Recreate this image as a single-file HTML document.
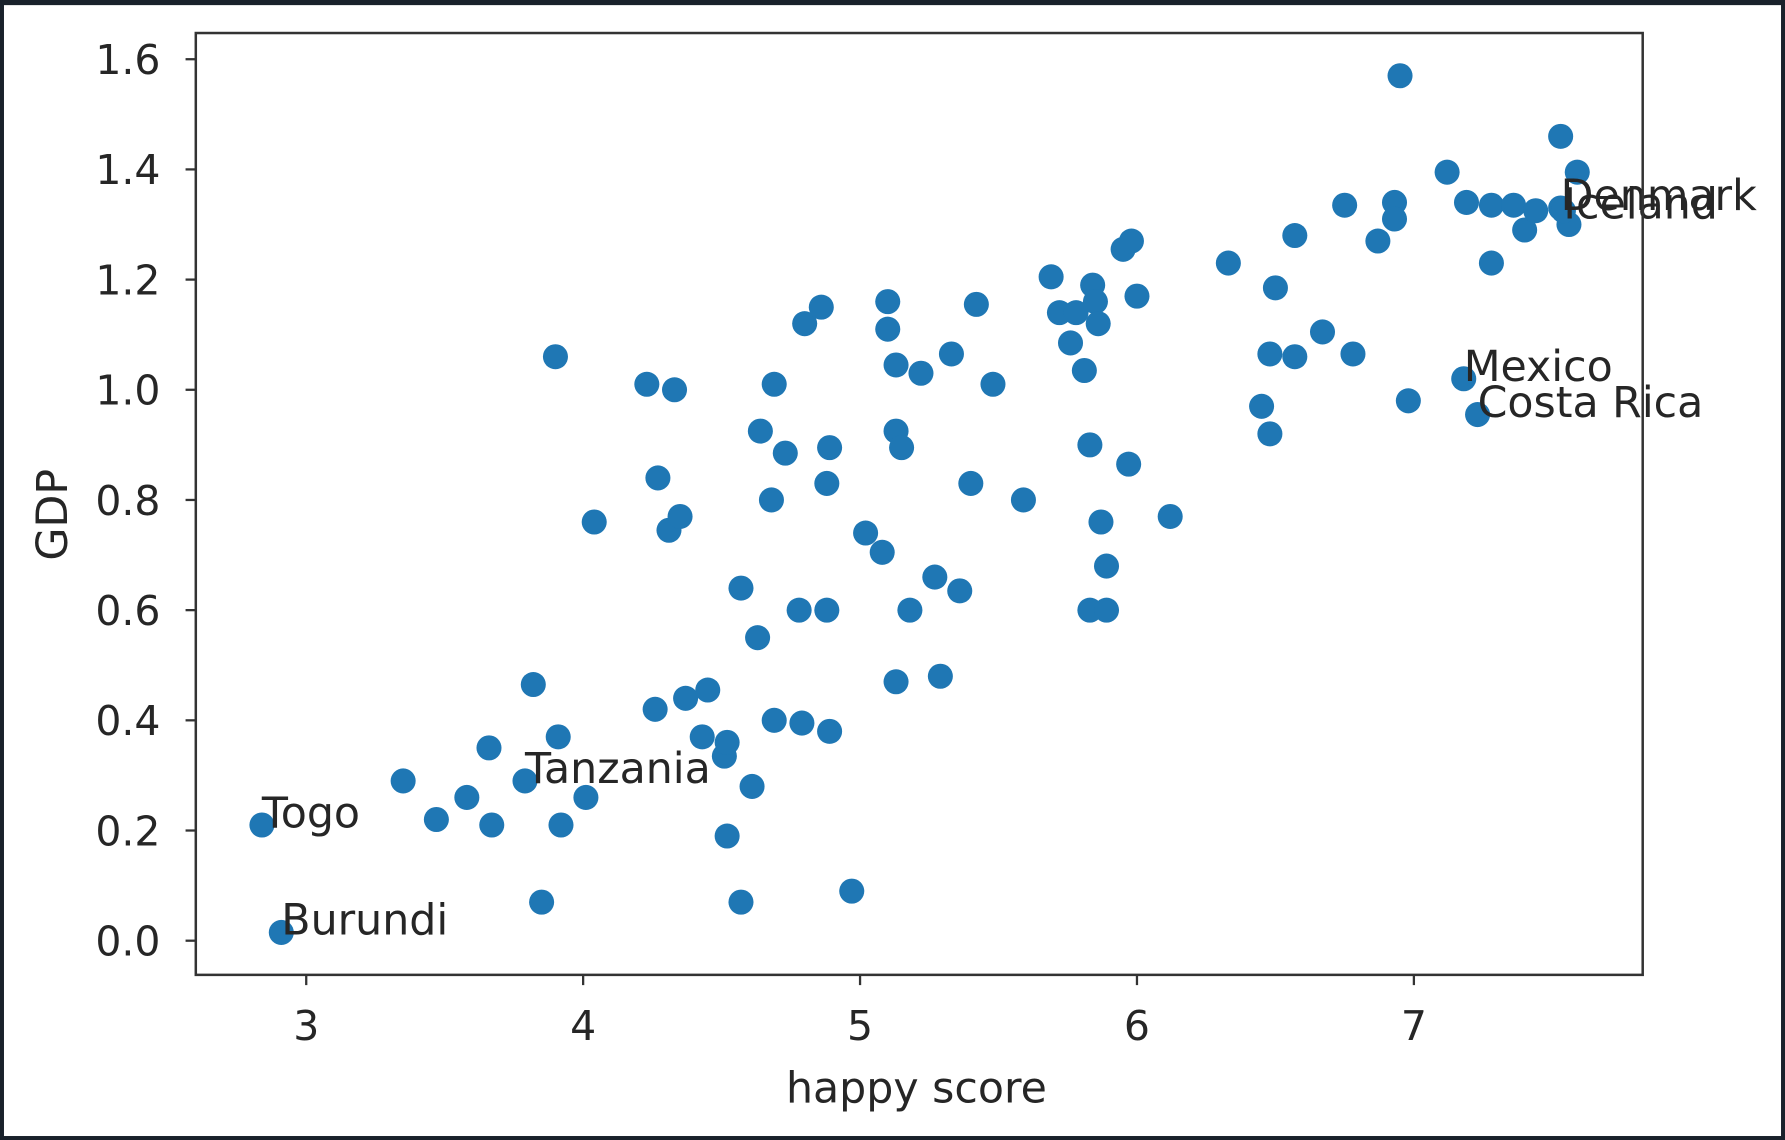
<!DOCTYPE html>
<html><head><meta charset="utf-8"><style>
html,body{margin:0;padding:0;background:#19212b;}
svg{display:block;}
text{font-family:"DejaVu Sans","Liberation Sans",sans-serif;fill:#262626;}
</style></head><body>
<svg id="chart" width="1785" height="1140" viewBox="0 0 1568 1001" preserveAspectRatio="none">
<rect x="3.5" y="4.5" width="1561" height="993" fill="#ffffff"/>
<g id="plot"></g>
</svg>
<script>
const xs=[2.84,2.91,3.35,3.47,3.58,3.66,3.67,3.79,3.82,3.85,3.90,3.91,3.92,4.01,4.04,4.23,4.26,4.27,4.31,4.33,4.35,4.37,4.45,4.43,4.51,4.52,4.52,4.57,4.57,4.61,4.63,4.64,4.68,4.69,4.69,4.73,4.78,4.79,4.80,4.86,4.88,4.88,4.89,4.89,4.97,5.02,5.08,5.10,5.10,5.13,5.13,5.13,5.15,5.18,5.22,5.27,5.29,5.33,5.36,5.40,5.42,5.48,5.59,5.69,5.72,5.76,5.78,5.81,5.83,5.83,5.84,5.85,5.86,5.87,5.89,5.89,5.95,5.98,5.97,6.00,6.12,6.33,6.45,6.48,6.48,6.50,6.57,6.57,6.67,6.75,6.78,6.87,6.93,6.93,6.95,6.98,7.12,7.18,7.19,7.23,7.28,7.28,7.36,7.40,7.44,7.53,7.53,7.56,7.59,7.54];
const ys=[0.21,0.015,0.29,0.22,0.26,0.35,0.21,0.29,0.465,0.07,1.06,0.37,0.21,0.26,0.76,1.01,0.42,0.84,0.745,1.0,0.77,0.44,0.455,0.37,0.335,0.36,0.19,0.64,0.07,0.28,0.55,0.925,0.80,1.01,0.40,0.885,0.60,0.395,1.12,1.15,0.83,0.60,0.895,0.38,0.09,0.74,0.705,1.16,1.11,1.045,0.47,0.925,0.895,0.60,1.03,0.66,0.48,1.065,0.635,0.83,1.155,1.01,0.80,1.205,1.14,1.085,1.14,1.035,0.90,0.60,1.19,1.16,1.12,0.76,0.60,0.68,1.255,1.27,0.865,1.17,0.77,1.23,0.97,0.92,1.065,1.185,1.06,1.28,1.105,1.335,1.065,1.27,1.34,1.31,1.57,0.98,1.395,1.02,1.34,0.955,1.335,1.23,1.335,1.29,1.325,1.46,1.33,1.30,1.395,1.325];
const labelNames=["Denmark","Iceland","Mexico","Costa Rica","Tanzania","Togo","Burundi"];
const labelX=[7.53,7.54,7.18,7.23,3.79,2.84,2.91];
const labelY=[1.33,1.315,1.02,0.955,0.29,0.21,0.015];
const xTicks=[3,4,5,6,7];
const yTicks=[0,0.2,0.4,0.6,0.8,1.0,1.2,1.4,1.6];
const xTickLabels=["3","4","5","6","7"];
const yTickLabels=["0.0","0.2","0.4","0.6","0.8","1.0","1.2","1.4","1.6"];

const L=172,R=1443,T=29,B=856;
const X=v=>269+(v-3)*243.25;
const Y=v=>826-v*483.75;
const NS="http://www.w3.org/2000/svg";
const g=document.getElementById('plot');
function mk(tag,attrs,parent){const e=document.createElementNS(NS,tag);for(const k in attrs)e.setAttribute(k,attrs[k]);(parent||g).appendChild(e);return e;}

const pts=mk('g',{});


xs.forEach((x,i)=>{
  const c=mk('circle',{cx:X(x),cy:Y(ys[i]),r:11,fill:'#1f77b4'},pts);
  
  
});
labelNames.forEach((n,i)=>{
  const t=mk('text',{x:X(labelX[i]),y:Y(labelY[i])+2,'font-size':37.5});
  t.textContent=n;
  
  
});
const frame=mk('rect',{x:L,y:T,width:R-L,height:B-T,fill:'none',stroke:'#333',"stroke-width":2.2});


xTicks.forEach((v,i)=>{
  const l=mk('line',{x1:X(v),x2:X(v),y1:B,y2:B+9,stroke:'#333','stroke-width':2});
  
  
  const t=mk('text',{x:X(v),y:B+57,'font-size':36,'text-anchor':'middle'});
  t.textContent=xTickLabels[i];
  
  
});
yTicks.forEach((v,i)=>{
  const l=mk('line',{x1:L-9,x2:L,y1:Y(v),y2:Y(v),stroke:'#333','stroke-width':2});
  
  
  const t=mk('text',{x:L-31,y:Y(v)+13,'font-size':36,'text-anchor':'end'});
  t.textContent=yTickLabels[i];
  
  
});
const xt=mk('text',{x:805,y:968,'font-size':37.5,'text-anchor':'middle'});
xt.textContent='happy score';


const yt=mk('text',{x:0,y:0,'font-size':37.5,'text-anchor':'middle',transform:`translate(59,452) rotate(-90)`});
yt.textContent='GDP';


</script>
</body></html>
